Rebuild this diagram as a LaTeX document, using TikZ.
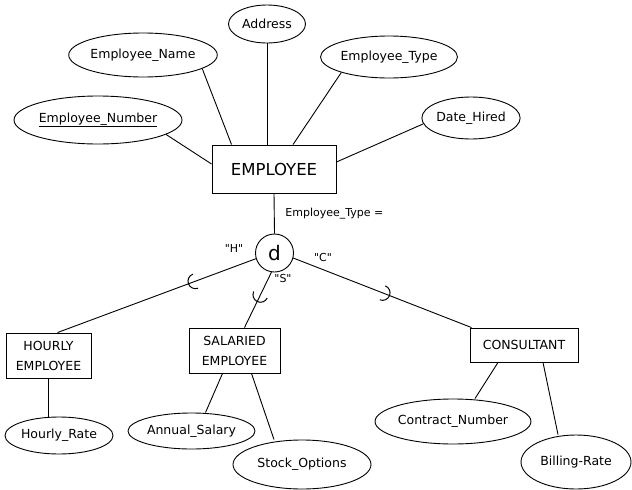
\documentclass[tikz,border=0pt]{standalone}
\usepackage{fontspec}
\setmainfont{DejaVu Sans}
% same family without TeX quote mapping, so " stays a straight quote
\newfontfamily\plainquotes{DejaVu Sans}
\usetikzlibrary{shapes.geometric,decorations.markings}

\begin{document}
\begin{tikzpicture}[x=1pt, y=-1pt, line width=0.9pt,
  attr/.style={draw, ellipse, inner sep=0pt, font=\fontsize{12.5}{15}\selectfont},
  entity/.style={draw, rectangle, inner sep=0pt, align=center, font=\fontsize{12.5}{20}\selectfont},
  lbl/.style={inner sep=0pt, font=\plainquotes\fontsize{11}{13}\selectfont},
  subsetmark/.style={postaction={decorate, decoration={markings,
      mark=at position #1 with {\draw[line width=1pt] (-7.5pt,7.5pt) arc[start angle=90, end angle=-90, radius=7.5pt];}}}}
]
\useasboundingbox (0,0) rectangle (632,490);

% supertype and its attributes
\node[entity, minimum width=124pt, minimum height=48pt, font=\fontsize{16.5}{20}\selectfont] (emp) at (274,169) {EMPLOYEE};
\node[attr, minimum width=77pt, minimum height=38pt] (address) at (267,24) {Address};
\node[attr, minimum width=130pt, minimum height=44pt] (ename) at (143,55) {Employee\_Name};
\node[attr, minimum width=168pt, minimum height=48pt] (enum) at (98,120) {\underline{Employee\_Number}};
\node[attr, minimum width=134pt, minimum height=42pt] (etype) at (389,57) {Employee\_Type};
\node[attr, minimum width=98pt, minimum height=42pt] (dhired) at (471,118) {Date\_Hired};

\draw (address.south) -- (address.south |- emp.north);
\draw (ename.-13) -- ([xshift=20pt]emp.north west);
\draw (enum.-12) -- ([yshift=5pt]emp.west);
\draw (etype.198) -- ([xshift=19pt]emp.north);
\draw (dhired.187) -- ([yshift=7pt]emp.east);

% disjoint specialization circle
\node[draw, circle, minimum size=38pt, inner sep=0pt, font=\fontsize{20}{22}\selectfont] (d) at (274.5,253) {d};
\draw (emp.south) -- (d.north);
\node[lbl, anchor=west] (disc) at (285,214) {Employee\_Type =};
\node[lbl] (lblH) at (234,248) {"H"};
\node[lbl] (lblS) at (283,278) {"S"};
\node[lbl] (lblC) at (323,257) {"C"};

% subtypes
\node[entity, minimum width=85pt, minimum height=45pt] (hourly) at (48.5,355.5) {HOURLY\\EMPLOYEE};
\node[entity, minimum width=91pt, minimum height=45pt] (salaried) at (234.5,350.5) {SALARIED\\EMPLOYEE};
\node[entity, minimum width=108pt, minimum height=34pt] (consultant) at (524,345) {CONSULTANT};

\draw[subsetmark=0.34] (d.197) -- ([xshift=9pt]hourly.north);
\draw[subsetmark=0.53] (d.261) -- ([xshift=10pt]salaried.north);
\draw[subsetmark=0.54] (d.345) -- ([xshift=2pt]consultant.north west);

% subtype attributes
\node[attr, minimum width=108pt, minimum height=37pt] (hrate) at (59,435.5) {Hourly\_Rate};
\node[attr, minimum width=127pt, minimum height=36pt] (asalary) at (191.5,431) {Annual\_Salary};
\node[attr, minimum width=138pt, minimum height=49pt] (stock) at (302,464.5) {Stock\_Options};
\node[attr, minimum width=152pt, minimum height=45pt] (contract) at (453,421.5) {Contract\_Number};
\node[attr, minimum width=110pt, minimum height=54pt] (billing) at (576,462) {Billing-Rate};

\draw (hourly.south) -- (hourly.south |- hrate.north);
\draw ([xshift=-12pt]salaried.south) -- ([xshift=14pt]asalary.north);
\draw ([xshift=17pt]salaried.south) -- ([xshift=-28pt]stock.north);
\draw ([xshift=-26pt]consultant.south) -- ([xshift=22pt]contract.north);
\draw ([xshift=19pt]consultant.south) -- ([xshift=-18pt]billing.north);
\end{tikzpicture}
\end{document}
